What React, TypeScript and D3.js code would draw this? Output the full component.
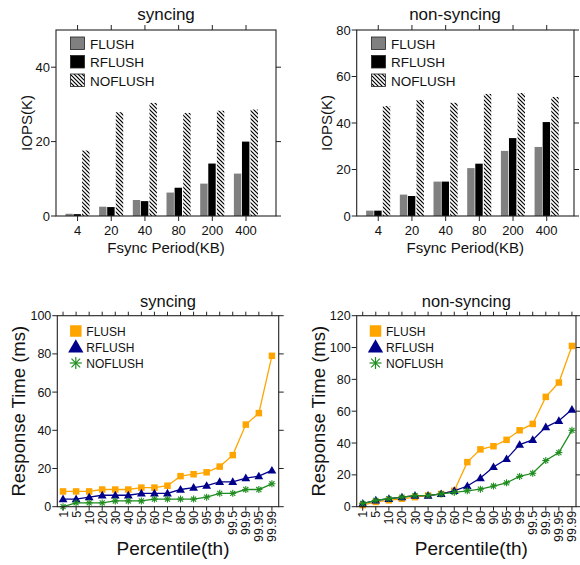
import React from 'react';
import * as d3 from 'd3';

const fsyncPeriods = ['4', '20', '40', '80', '200', '400'];
const barSeriesNames = ['FLUSH', 'RFLUSH', 'NOFLUSH'];
const syncFlush = [0.6, 2.5, 4.3, 6.3, 8.7, 11.4];
const syncRflush = [0.5, 2.4, 4.0, 7.6, 14.1, 20.0];
const syncNoflush = [17.6, 27.9, 30.4, 27.7, 28.3, 28.6];
const nonsyncFlush = [2.3, 9.2, 14.8, 20.6, 28.0, 29.7];
const nonsyncRflush = [2.3, 8.6, 14.8, 22.5, 33.5, 40.4];
const nonsyncNoflush = [47.3, 49.9, 48.7, 52.5, 52.9, 51.2];
const syncIopsTicks = [0, 20, 40];
const nonsyncIopsTicks = [0, 20, 40, 60, 80];

const percentiles = ['1', '5', '10', '20', '30', '40', '50', '60', '70', '80', '90', '95', '99', '99.5', '99.9', '99.95', '99.99'];
const rtSyncFlush = [8, 8, 8, 9, 9, 9, 10, 10, 11, 16, 17, 18, 21, 27, 43, 49, 79];
const rtSyncRflush = [4, 4, 5, 6, 6, 6, 7, 7, 7, 9, 10, 11, 13, 13, 15, 16, 19];
const rtSyncNoflush = [0, 2, 2, 2, 3, 3, 3, 4, 4, 4, 4, 5, 7, 7, 9, 9, 12];
const rtNonsyncFlush = [1, 3, 4, 5, 6, 7, 8, 10, 28, 36, 38, 42, 48, 52, 69, 78, 101];
const rtNonsyncRflush = [2, 4, 5, 6, 7, 7, 8, 10, 13, 18, 25, 30, 39, 42, 50, 54, 61];
const rtNonsyncNoflush = [2, 4, 5, 6, 7, 7, 8, 9, 10, 11, 13, 15, 19, 21, 29, 34, 48];
const rtSyncTicks = [0, 20, 40, 60, 80, 100];
const rtNonsyncTicks = [0, 20, 40, 60, 80, 100, 120];

const FONT = '"Liberation Sans", Arial, Helvetica, sans-serif';
const TXT = '#111';
const barFills = ['#808080', '#000000', 'url(#hatch)'];
const lineColors = ['#FFA500', '#00008B', '#1E8C1E'];

type BarProps = {
  left: number; right: number; top: number; bottom: number;
  yMax: number; yTicks: number[]; xDom: [number, number];
  series: number[][]; title: string; titleX: number; yLabelX: number; legendX: number;
};

function BarPanel(p: BarProps) {
  const x = d3.scaleLinear().domain(p.xDom).range([p.left, p.right]);
  const y = d3.scaleLinear().domain([0, p.yMax]).range([p.bottom, p.top]);
  const offsets = [-0.25, -0.01, 0.245];
  const bw = x(0.22) - x(0);
  const cx = (p.left + p.right) / 2;
  const cy = (p.top + p.bottom) / 2;
  return (
    <g fontFamily={FONT} fill={TXT}>
      {p.series.map((vals, s) =>
        vals.map((v, i) => (
          <rect key={`b${s}-${i}`} x={x(i + offsets[s]) - bw / 2} y={y(v)} width={bw}
            height={y(0) - y(v)} fill={barFills[s]} />
        ))
      )}
      <rect x={p.left} y={p.top} width={p.right - p.left} height={p.bottom - p.top}
        fill="none" stroke="#222" strokeWidth={1.1} />
      {fsyncPeriods.map((c, i) => (
        <g key={`xt${i}`}>
          <line x1={x(i)} x2={x(i)} y1={p.bottom} y2={p.bottom + 5} stroke="#222" />
          <line x1={x(i)} x2={x(i)} y1={p.top} y2={p.top - 5} stroke="#222" />
          <text x={x(i)} y={p.bottom + 19} fontSize={13} textAnchor="middle">{c}</text>
        </g>
      ))}
      {p.yTicks.map((t) => (
        <g key={`yt${t}`}>
          <line x1={p.left - 5} x2={p.left} y1={y(t)} y2={y(t)} stroke="#222" />
          <line x1={p.right} x2={p.right + 5} y1={y(t)} y2={y(t)} stroke="#222" />
          <text x={p.left - 6} y={y(t)} dy="0.36em" fontSize={13} textAnchor="end">{t}</text>
        </g>
      ))}
      <text x={p.titleX} y={20} fontSize={17} textAnchor="middle">{p.title}</text>
      <text x={cx} y={p.bottom + 36.5} fontSize={15} textAnchor="middle">Fsync Period(KB)</text>
      <text transform={`translate(${p.yLabelX},${cy}) rotate(-90)`} fontSize={15} textAnchor="middle">IOPS(K)</text>
      {barSeriesNames.map((n, s) => (
        <g key={`lg${s}`}>
          <rect x={p.legendX} y={37 + s * 18.5} width={14} height={12.5} fill={barFills[s]}
            stroke="#222" strokeWidth={0.8} />
          <text x={p.legendX + 19.5} y={48.5 + s * 18.5} fontSize={13.5}>{n}</text>
        </g>
      ))}
    </g>
  );
}

function Marker({ kind, x, y, size, color }: { kind: number; x: number; y: number; size: number; color: string }) {
  const h = size / 2;
  if (kind === 0) return <rect x={x - h} y={y - h} width={size} height={size} fill={color} />;
  if (kind === 1) {
    const tri = d3.symbol().type(d3.symbolTriangle).size(size * size * 0.6)();
    return <path d={tri || ''} transform={`translate(${x},${y + size * 0.08})`} fill={color} />;
  }
  const d = h * 0.72;
  return (
    <g stroke={color} strokeWidth={size > 9 ? 1.2 : 1.1}>
      <line x1={x - h} x2={x + h} y1={y} y2={y} />
      <line x1={x} x2={x} y1={y - h} y2={y + h} />
      <line x1={x - d} x2={x + d} y1={y - d} y2={y + d} />
      <line x1={x - d} x2={x + d} y1={y + d} y2={y - d} />
    </g>
  );
}

type LineProps = {
  left: number; right: number; top: number; bottom: number;
  yMax: number; yTicks: number[]; xDom: [number, number];
  series: number[][]; title: string; yLabelX: number; legendX: number;
};

function LinePanel(p: LineProps) {
  const x = d3.scaleLinear().domain(p.xDom).range([p.left, p.right]);
  const y = d3.scaleLinear().domain([0, p.yMax]).range([p.bottom, p.top]);
  const cx = (p.left + p.right) / 2;
  const cy = (p.top + p.bottom) / 2;
  const line = d3.line<number>().x((_, i) => x(i)).y((v) => y(v));
  const sizes = [6.5, 7.5, 7];
  return (
    <g fontFamily={FONT} fill={TXT}>
      {p.series.map((vals, s) => (
        <g key={`s${s}`}>
          <path d={line(vals) || ''} fill="none" stroke={lineColors[s]} strokeWidth={1.3} />
          {vals.map((v, i) => (
            <Marker key={i} kind={s} x={x(i)} y={y(v)} size={sizes[s]} color={lineColors[s]} />
          ))}
        </g>
      ))}
      <rect x={p.left} y={p.top} width={p.right - p.left} height={p.bottom - p.top}
        fill="none" stroke="#222" strokeWidth={1.1} />
      {percentiles.map((c, i) => (
        <g key={`xt${i}`}>
          <line x1={x(i)} x2={x(i)} y1={p.bottom} y2={p.bottom + 4} stroke="#222" />
          <line x1={x(i)} x2={x(i)} y1={p.top} y2={p.top - 4} stroke="#222" />
          <text transform={`translate(${x(i)},${p.bottom + 4}) rotate(-90)`} dy="0.36em"
            fontSize={12.5} textAnchor="end">{c}</text>
        </g>
      ))}
      {p.yTicks.map((t) => (
        <g key={`yt${t}`}>
          <line x1={p.left - 5} x2={p.left} y1={y(t)} y2={y(t)} stroke="#222" />
          <line x1={p.right} x2={p.right + 5} y1={y(t)} y2={y(t)} stroke="#222" />
          <text x={p.left - 6} y={y(t)} dy="0.36em" fontSize={12.5} textAnchor="end">{t}</text>
        </g>
      ))}
      <text x={cx} y={307} fontSize={16.5} textAnchor="middle">{p.title}</text>
      <text x={cx + 5} y={555} fontSize={19} textAnchor="middle">Percentile(th)</text>
      <text transform={`translate(${p.yLabelX},${cy}) rotate(-90)`} fontSize={18.5} textAnchor="middle">Response Time (ms)</text>
      {barSeriesNames.map((n, s) => (
        <g key={`lg${s}`}>
          <Marker kind={s} x={p.legendX} y={331 + s * 16} size={s === 2 ? 12 : s === 1 ? 13 : 11.5} color={lineColors[s]} />
          <text x={p.legendX + 10.5} y={336 + s * 16} fontSize={12}>{n}</text>
        </g>
      ))}
    </g>
  );
}

export default function App() {
  return (
    <svg width={580} height={565} style={{ position: 'absolute', left: 0, top: 0, background: '#fff' }}>
      <defs>
        <pattern id="hatch" patternUnits="userSpaceOnUse" width={4} height={4}>
          <rect width={4} height={4} fill="#fff" />
          <path d="M-1,-1 L5,5 M-1,3 L1,5 M3,-1 L5,1"
            stroke="#000" strokeWidth={1.2} />
        </pattern>
      </defs>
      <rect width={580} height={565} fill="#fff" />
      <BarPanel left={56} right={276} top={30} bottom={216} yMax={50} yTicks={syncIopsTicks}
        xDom={[-0.64, 5.89]} series={[syncFlush, syncRflush, syncNoflush]} title="syncing"
        titleX={166} yLabelX={32} legendX={70.5} />
      <BarPanel left={356.7} right={574} top={30} bottom={216} yMax={80} yTicks={nonsyncIopsTicks}
        xDom={[-0.64, 5.81]} series={[nonsyncFlush, nonsyncRflush, nonsyncNoflush]} title="non-syncing"
        titleX={455} yLabelX={332} legendX={371.5} />
      <LinePanel left={57.3} right={278.7} top={315.7} bottom={506.7} yMax={100} yTicks={rtSyncTicks}
        xDom={[-0.44, 16.52]} series={[rtSyncFlush, rtSyncRflush, rtSyncNoflush]} title="syncing"
        yLabelX={25} legendX={75.8} />
      <LinePanel left={356.7} right={576} top={315.7} bottom={506.7} yMax={120} yTicks={rtNonsyncTicks}
        xDom={[-0.46, 16.31]} series={[rtNonsyncFlush, rtNonsyncRflush, rtNonsyncNoflush]} title="non-syncing"
        yLabelX={324.5} legendX={375.5} />
    </svg>
  );
}
